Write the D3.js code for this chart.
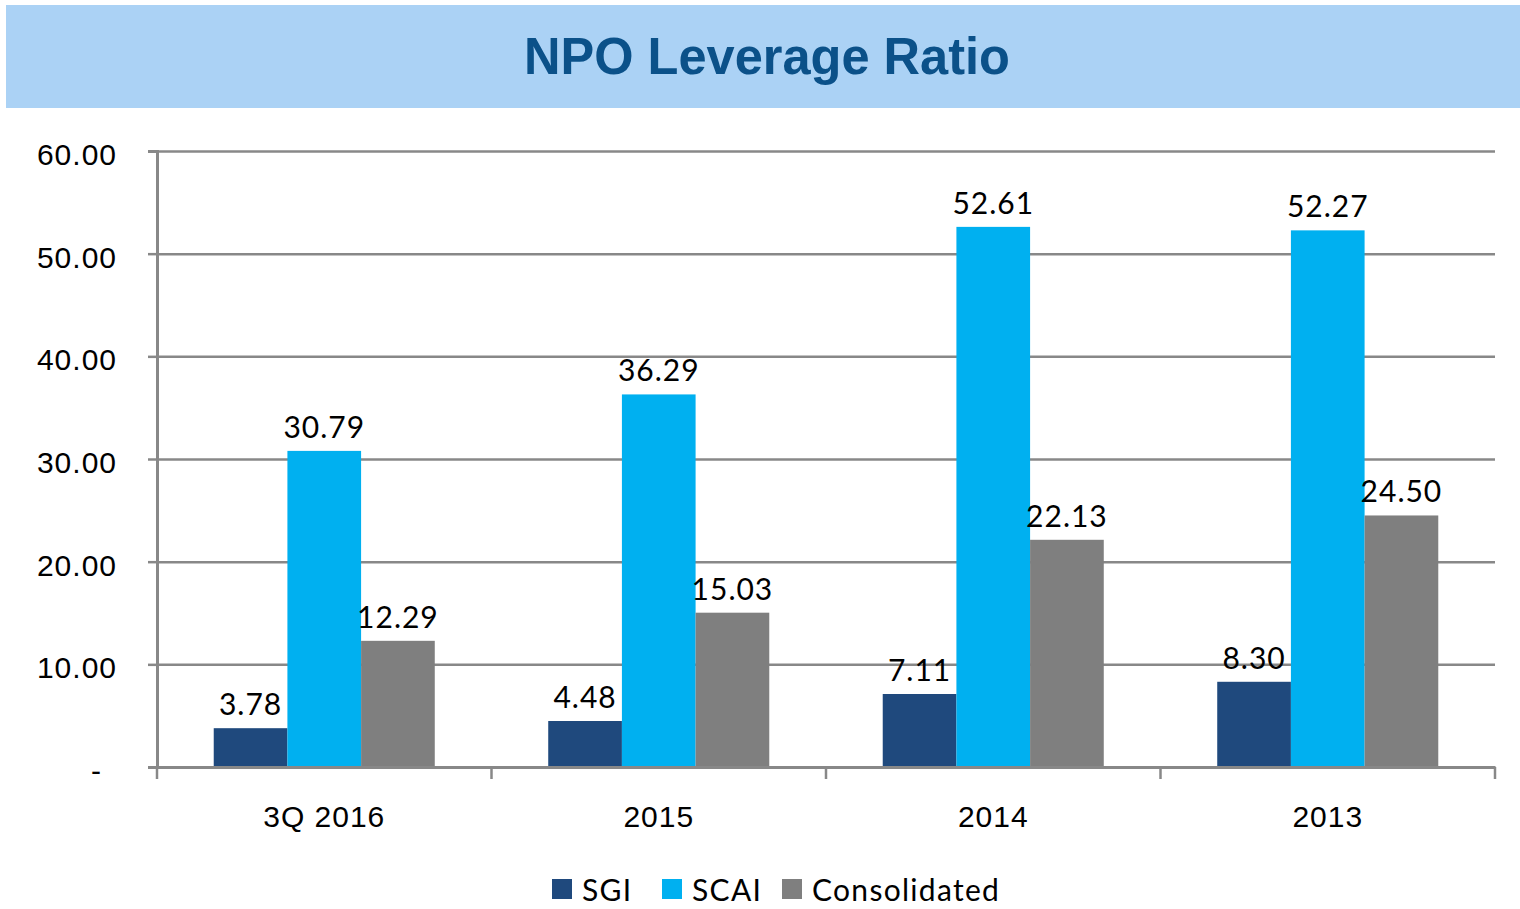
<!DOCTYPE html>
<html>
<head>
<meta charset="utf-8">
<script src="https://cdn.jsdelivr.net/npm/d3@7"></script>
<style>
  body { margin: 0; background: #fff; }
  svg { display: block; font-family: Lato, "Open Sans", sans-serif; }
</style>
</head>
<body>
<svg id="chart" width="1520" height="909"></svg>
<script>
const categories = ['3Q 2016', '2015', '2014', '2013'];
const seriesNames = ['SGI', 'SCAI', 'Consolidated'];
const sgi = [3.78, 4.48, 7.11, 8.30];
const scai = [30.79, 36.29, 52.61, 52.27];
const consolidated = [12.29, 15.03, 22.13, 24.50];
const yTicks = [0, 10, 20, 30, 40, 50, 60];

const colors = ['#1f497d', '#00b0f0', '#7f7f7f'];
const values = [sgi, scai, consolidated];

const svg = d3.select('#chart');

// title band
svg.append('rect')
    .attr('x', 6).attr('y', 5)
    .attr('width', 1514).attr('height', 103)
    .attr('fill', '#abd2f5');
svg.append('text')
    .attr('x', 767).attr('y', 74)
    .attr('text-anchor', 'middle')
    .attr('font-family', 'Liberation Sans, Arial, sans-serif')
    .attr('font-weight', 'bold')
    .attr('font-size', 52)
    .attr('textLength', 486)
    .attr('lengthAdjust', 'spacingAndGlyphs')
    .attr('fill', '#0b5189')
    .text('NPO Leverage Ratio');

const margin = {left: 157, right: 1495, top: 151, bottom: 767};

const x = d3.scaleBand()
    .domain(categories)
    .range([margin.left, margin.right]);

const xInner = d3.scaleBand()
    .domain(seriesNames)
    .range([0, x.bandwidth()])
    .paddingOuter(0.77);

const y = d3.scaleLinear()
    .domain([0, 60])
    .range([margin.bottom, margin.top]);

// gridlines + y labels
const yAxis = svg.append('g')
    .attr('transform', `translate(${margin.left},0)`)
    .call(d3.axisLeft(y)
        .tickValues(yTicks)
        .tickSize(9)
        .tickPadding(31)
        .tickFormat(d => d === 0 ? '-' : d3.format('.2f')(d)));
yAxis.select('.domain').attr('stroke', '#888').attr('stroke-width', 3);
yAxis.selectAll('.tick line').attr('stroke', '#888').attr('stroke-width', 2.5);
yAxis.selectAll('.tick text')
    .attr('font-size', 30)
    .attr('letter-spacing', 1)
    .attr('y', 4)
    .attr('fill', '#000');
// zero shown as a dash, set in from the right like the accounting format
yAxis.selectAll('.tick text').filter(d => d === 0)
    .attr('x', -55);
yAxis.selectAll('.tick').append('line')
    .attr('x1', 0).attr('x2', margin.right - margin.left)
    .attr('stroke', '#888').attr('stroke-width', 2.5);

// bars
const groups = svg.append('g').selectAll('g')
    .data(categories)
    .join('g')
    .attr('transform', d => `translate(${x(d)},0)`);

seriesNames.forEach((s, si) => {
    groups.append('rect')
        .attr('x', xInner(s))
        .attr('width', xInner.bandwidth())
        .attr('y', (d, i) => y(values[si][i]))
        .attr('height', (d, i) => y(0) - y(values[si][i]))
        .attr('fill', colors[si]);
    groups.append('text')
        .attr('x', xInner(s) + xInner.bandwidth() / 2)
        .attr('y', (d, i) => y(values[si][i]) - 13)
        .attr('text-anchor', 'middle')
        .attr('font-size', 30)
        .attr('letter-spacing', 1)
        .attr('fill', '#000')
        .text((d, i) => d3.format('.2f')(values[si][i]));
});

// x axis
const xAxis = svg.append('g')
    .attr('transform', `translate(0,${margin.bottom})`)
    .call(d3.axisBottom(x).tickSize(0).tickPadding(39));
xAxis.select('.domain').attr('stroke', '#888').attr('stroke-width', 3);
xAxis.selectAll('.tick text')
    .attr('font-size', 30)
    .attr('letter-spacing', 1)
    .attr('fill', '#000');
xAxis.selectAll('.sep')
    .data(d3.range(categories.length + 1))
    .join('line')
    .attr('x1', i => margin.left + i * x.bandwidth())
    .attr('x2', i => margin.left + i * x.bandwidth())
    .attr('y1', 0).attr('y2', 12)
    .attr('stroke', '#888').attr('stroke-width', 2.5);

// legend
const legendX = [552, 662, 782];
const legend = svg.append('g').selectAll('g')
    .data(seriesNames)
    .join('g')
    .attr('transform', (d, i) => `translate(${legendX[i]},879)`);
legend.append('rect')
    .attr('width', 20).attr('height', 20)
    .attr('fill', (d, i) => colors[i]);
legend.append('text')
    .attr('x', 30).attr('y', 22)
    .attr('font-size', 30)
    .attr('letter-spacing', 1.3)
    .attr('fill', '#000')
    .text(d => d);
</script>
</body>
</html>
